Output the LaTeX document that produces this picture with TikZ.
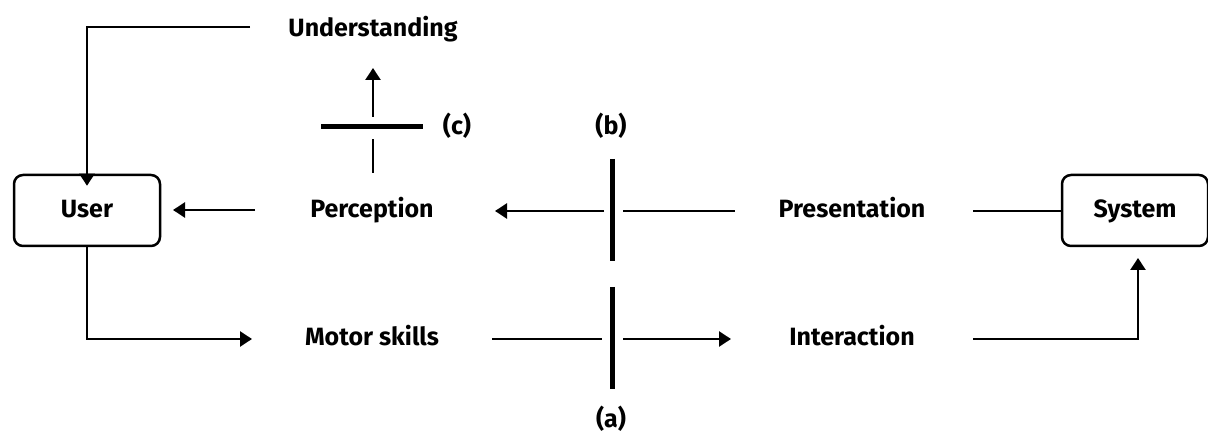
\documentclass[tikz,border=0pt]{standalone}
\usepackage{fontspec}
\setmainfont{Fira Sans}
\usetikzlibrary{arrows.meta}
\tikzset{
  lbl/.style={font=\bfseries\fontsize{25}{30}\selectfont, inner sep=0pt, anchor=base},
  box/.style={draw, line width=2.5pt, rounded corners=9pt, minimum width=146pt,
              minimum height=71pt, inner sep=0pt},
  conn/.style={line width=2.5pt},
  arr/.style={conn, -{Triangle[length=12pt,width=15pt]}},
  bar/.style={line width=5pt},
}
\begin{document}
\begin{tikzpicture}[x=1pt,y=-1pt]
  \useasboundingbox (0,0) rectangle (1208,435);

  % boxes
  \node[box] (user) at (87,210.5) {};
  \node[box] (system) at (1135,210.5) {};
  \node[lbl] (userlbl) at (87,218) {User};
  \node[lbl] (syslbl) at (1135,218) {System};

  % stage labels
  \node[lbl] (under) at (373,37) {Understanding};
  \node[lbl] (perc) at (372,218) {Perception};
  \node[lbl] (pres) at (852,218) {Presentation};
  \node[lbl] (motor) at (372,346) {Motor skills};
  \node[lbl] (inter) at (852,346) {Interaction};
  \node[lbl] (lc) at (457,135) {(c)};
  \node[lbl] (lb) at (611,135) {(b)};
  \node[lbl] (la) at (611,428) {(a)};

  % connector end points
  \coordinate (uA) at (250,27);
  \coordinate (pA) at (255,210);
  \coordinate (pB) at (173,210);
  \coordinate (cA) at (373,173);
  \coordinate (cB) at (373,139);
  \coordinate (cC) at (373,117);
  \coordinate (cD) at (373,68);
  \coordinate (bA) at (604,211);
  \coordinate (bB) at (495,211);
  \coordinate (bC) at (623,211);
  \coordinate (bD) at (735,211);
  \coordinate (sA) at (973,211);
  \coordinate (mA) at (252,339);
  \coordinate (aA) at (492,339);
  \coordinate (aB) at (602,339);
  \coordinate (aC) at (623,339);
  \coordinate (aD) at (731,339);
  \coordinate (iA) at (973,339);
  \coordinate (iB) at (1138,258);

  % barriers
  \draw[bar] (321,127) -- (423,127);
  \draw[bar] (612,159) -- (612,261);
  \draw[bar] (612,287) -- (612,389);

  % feedback path
  \draw[arr] (uA) -| ([yshift=-12pt]user.north);
  \draw[arr] (pA) -- (pB);
  \draw[conn] (cA) -- (cB);
  \draw[arr] (cC) -- (cD);
  \draw[arr] (bA) -- (bB);
  \draw[conn] (bC) -- (bD);
  \draw[conn] (sA) -- (sA -| system.west);

  % action path
  \draw[arr] (user.south) |- (mA);
  \draw[conn] (aA) -- (aB);
  \draw[arr] (aC) -- (aD);
  \draw[arr] (iA) -| (iB);
\end{tikzpicture}
\end{document}
